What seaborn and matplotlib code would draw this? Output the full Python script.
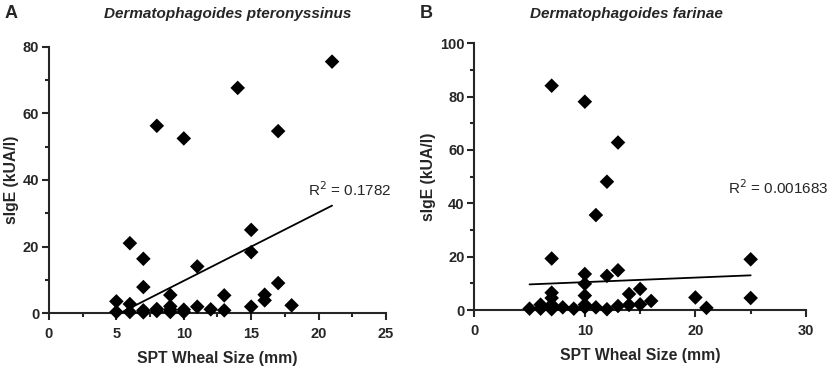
import numpy as np
import pandas as pd
import seaborn as sns
import matplotlib.pyplot as plt
from matplotlib.ticker import MultipleLocator

# panel A - D. pteronyssinus
a_wheal = [5, 5, 6, 6, 6, 7, 7, 7, 7, 8, 8, 8, 9, 9, 9, 9, 10, 10, 10,
           11, 11, 12, 13, 13, 14, 15, 15, 15, 16, 16, 17, 17, 18, 21]
a_sige = [3.5, 0.3, 21.0, 2.7, 0.3, 16.3, 7.8, 0.8, 0.2, 56.3, 1.2, 0.6, 5.4, 2.0, 1.0, 0.3, 52.5, 1.0, 0.3,
          14.0, 1.9, 1.1, 5.3, 0.8, 67.7, 25.0, 18.3, 1.9, 5.5, 3.8, 54.7, 9.0, 2.3, 75.6]
a_fit_x = [5, 21]
a_fit_y = [-0.6, 32.3]

# panel B - D. farinae
b_wheal = [5, 6, 6, 7, 7, 7, 7, 7, 7, 7, 8, 9, 10, 10, 10, 10, 10, 10,
           11, 11, 12, 12, 12, 13, 13, 13, 14, 14, 15, 15, 16, 20, 21, 25, 25]
b_sige = [0.5, 2.0, 0.5, 84.1, 19.3, 6.5, 4.5, 2.0, 1.0, 0.3, 1.0, 0.5, 78.1, 13.5, 9.8, 5.4, 2.0, 1.0,
          35.6, 1.0, 48.1, 12.8, 0.3, 62.8, 14.9, 1.5, 6.0, 1.9, 7.9, 2.1, 3.4, 4.7, 0.8, 19.0, 4.5]
b_fit_x = [5, 25]
b_fit_y = [9.6, 13.0]

sns.set_style('ticks')
plt.rcParams['font.family'] = ['Liberation Sans', 'DejaVu Sans']

fig = plt.figure(figsize=(8.29, 3.66), dpi=100)
ax1 = fig.add_axes([0.0591, 0.1448, 0.4065, 0.7268])
ax2 = fig.add_axes([0.5721, 0.153, 0.4001, 0.7287])

panels = [
    (ax1, a_wheal, a_sige, a_fit_x, a_fit_y, 25, 80, 5, 20, 2.5, 10),
    (ax2, b_wheal, b_sige, b_fit_x, b_fit_y, 30, 100, 10, 20, 5, 10),
]

for ax, x, y, fx, fy, xmax, ymax, xmaj, ymaj, xmin, ymin in panels:
    df = pd.DataFrame({'wheal': x, 'sige': y})
    sns.scatterplot(data=df, x='wheal', y='sige', marker='D', s=55,
                    color='black', edgecolor='none', clip_on=False, zorder=3, ax=ax)
    sns.lineplot(x=fx, y=fy, color='black', lw=1.3, ax=ax)
    ax.set_xlim(0, xmax)
    ax.set_ylim(0, ymax)
    ax.xaxis.set_major_locator(MultipleLocator(xmaj))
    ax.xaxis.set_minor_locator(MultipleLocator(xmin))
    ax.yaxis.set_major_locator(MultipleLocator(ymaj))
    ax.yaxis.set_minor_locator(MultipleLocator(ymin))
    ax.tick_params(which='major', length=5, width=1.5, labelsize=10.5, pad=2)
    ax.tick_params(axis='x', which='major', pad=5)
    ax.tick_params(which='minor', length=3, width=1.5)
    for lbl in ax.get_xticklabels() + ax.get_yticklabels():
        lbl.set_fontweight('bold')
    for side in ['left', 'bottom']:
        ax.spines[side].set_linewidth(1.5)
    sns.despine(ax=ax)
    ax.set_xlabel('SPT Wheal Size (mm)', fontsize=11.3, fontweight='bold', labelpad=7)
    ax.set_ylabel('sIgE (kUA/l)', fontsize=11.3, fontweight='bold', labelpad=3)

ax1.text(22.3, 37, r'R$^2$ = 0.1782', fontsize=11, ha='center', va='center')
ax2.text(27.5, 46, r'R$^2$ = 0.001683', fontsize=11, ha='center', va='center')

fig.text(0.006, 0.985, 'A', fontsize=13, fontweight='bold', va='top')
fig.text(0.506, 0.985, 'B', fontsize=13, fontweight='bold', va='top')
fig.text(228 / 829, 0.98, 'Dermatophagoides pteronyssinus', fontsize=11,
         fontweight='bold', style='italic', ha='center', va='top')
fig.text(626 / 829, 0.98, 'Dermatophagoides farinae', fontsize=11,
         fontweight='bold', style='italic', ha='center', va='top')

fig.savefig('out.png', dpi=100)
